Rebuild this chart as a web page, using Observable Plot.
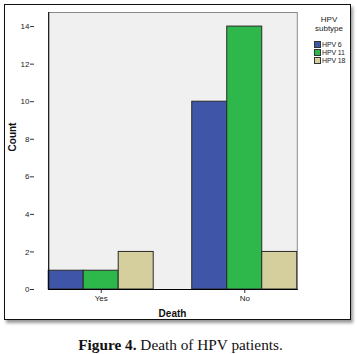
<!DOCTYPE html>
<html>
<head>
<meta charset="utf-8">
<script src="https://cdn.jsdelivr.net/npm/d3@7"></script>
<script src="https://cdn.jsdelivr.net/npm/@observablehq/plot@0.6"></script>
<style>
  html, body { margin: 0; padding: 0; background: #fff; }
  #wrap { position: relative; width: 357px; height: 354px; overflow: hidden; font-family: "Liberation Sans", Arial, sans-serif; }
  #box { position: absolute; left: 4px; top: 4px; width: 345px; height: 314px; border: 1.5px solid #111; box-shadow: 2px 3px 3px #999; background: #fff; }
  #chart { position: absolute; left: 0; top: 0; }
  .axlab { position: absolute; font-weight: bold; font-size: 10px; color: #111; }
  #ylab { left: 12px; top: 137px; transform: translate(-50%, -50%) rotate(-90deg); }
  #xlab { left: 172.5px; top: 313px; transform: translate(-50%, -50%); }
  #legend { position: absolute; left: 312px; top: 15px; width: 36px; color: #222; }
  #legend .title { position: absolute; left: 0; top: 0px; width: 34px; text-align: center; font-size: 8px; line-height: 9.2px; }
  #legend .items { position: absolute; left: 2px; top: 25.5px; font-size: 7px; letter-spacing: -0.15px; }
  #legend .item { display: flex; align-items: center; height: 8px; white-space: nowrap; }
  #legend .sw { width: 5px; height: 5px; border: 1px solid #333; margin-right: 1px; flex: none; }
  #caption { position: absolute; left: 0; width: 361px; top: 336px; text-align: center; font-family: "Liberation Serif", "Times New Roman", serif; font-size: 15.3px; color: #111; }
</style>
</head>
<body>
<div id="wrap">
  <div id="box"></div>
  <div id="chart"></div>
  <div id="ylab" class="axlab">Count</div>
  <div id="xlab" class="axlab">Death</div>
  <div id="legend"></div>
  <div id="caption"><b>Figure 4.</b> Death of HPV patients.</div>
</div>
<script>
const deaths = ["Yes", "No"];
const subtypes = ["HPV 6", "HPV 11", "HPV 18"];
const hpv6 = [1, 10];
const hpv11 = [1, 14];
const hpv18 = [2, 2];
const colors = ["#3f55a8", "#2eb84b", "#d4cf9c"];
const yTicks = [0, 2, 4, 6, 8, 10, 12, 14];

const series = [hpv6, hpv11, hpv18];
const data = deaths.flatMap((d, i) => subtypes.map((s, j) => ({death: d, subtype: s, count: series[j][i]})));

const fxPadInner = 0.268, fxPadOuter = 0.099;
const plotW = 357 - 34 - 46;
const step = plotW / (deaths.length - fxPadInner + 2 * fxPadOuter);

const chart = Plot.plot({
  width: 357,
  height: 322,
  marginLeft: 34,
  marginRight: 46,
  marginTop: 12,
  marginBottom: 33,
  style: {fontFamily: "Liberation Sans, Arial, sans-serif", fontSize: "8px", color: "#222", background: "transparent"},
  fx: {domain: deaths, paddingInner: fxPadInner, paddingOuter: fxPadOuter, axis: null, round: false},
  x: {domain: subtypes, padding: 0, axis: null},
  y: {domain: [0, 14.75], axis: null},
  color: {domain: subtypes, range: colors},
  marks: [
    Plot.frame({fill: "#f0f0f0", stroke: "#8a8a8a", facet: "super"}),
    Plot.barY(data, {fx: "death", x: "subtype", y: "count", fill: "subtype", stroke: "#2a2a2a", strokeWidth: 1}),
    Plot.axisY({ticks: yTicks, tickSize: 4, tickPadding: 1, label: null, stroke: "#333", dx: -step * fxPadOuter}),
    Plot.axisFx({anchor: "bottom", tickSize: 4, tickPadding: 2, label: null, stroke: "#333"}),
    Plot.frame({anchor: "left", stroke: "#000", facet: "super"}),
    Plot.frame({anchor: "bottom", stroke: "#000", facet: "super"})
  ]
});
document.getElementById("chart").appendChild(chart);

const legend = document.getElementById("legend");
legend.innerHTML = '<div class="title">HPV<br>subtype</div><div class="items">' +
  subtypes.map((s, i) => `<div class="item"><div class="sw" style="background:${colors[i]}"></div>${s}</div>`).join("") +
  '</div>';
</script>
</body>
</html>
